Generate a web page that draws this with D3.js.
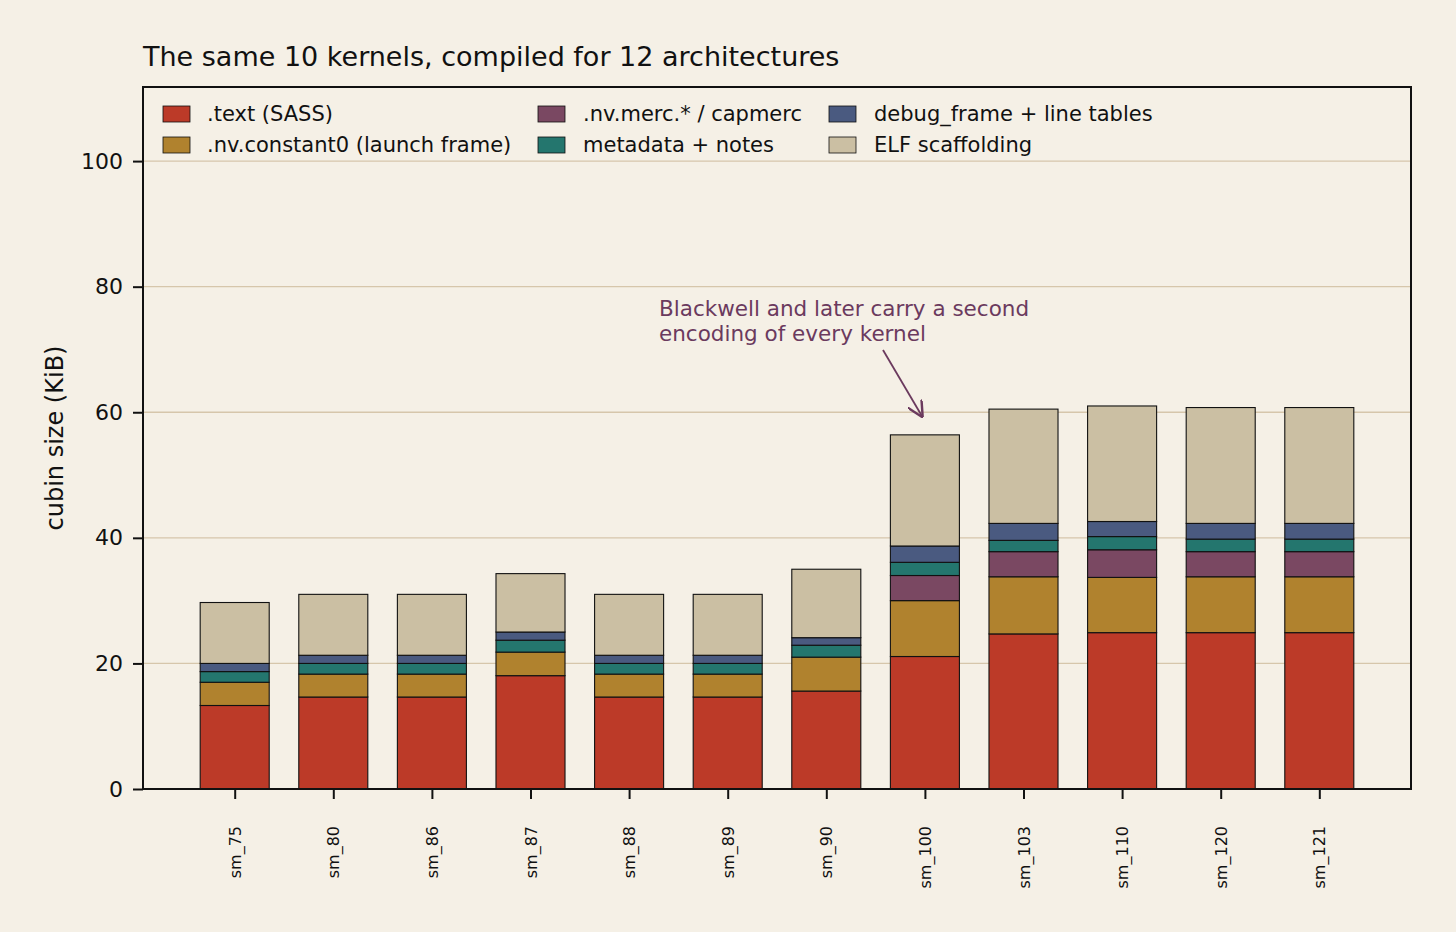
<!DOCTYPE html>
<html>
<head>
<meta charset="utf-8">
<script src="https://cdn.jsdelivr.net/npm/d3@7"></script>
<style>
  body { margin: 0; background: #f5f0e6; }
  svg, svg text { font-family: "DejaVu Sans", sans-serif; }
</style>
</head>
<body>
<div id="chart"></div>
<script>
// architectures on the x axis
const archs = ['sm_75', 'sm_80', 'sm_86', 'sm_87', 'sm_88', 'sm_89', 'sm_90', 'sm_100', 'sm_103', 'sm_110', 'sm_120', 'sm_121'];

// section sizes in KiB
const textSass   = [13.3, 14.65, 14.65, 18.05, 14.65, 14.65, 15.6, 21.1, 24.7, 24.9, 24.9, 24.9];
const constant0  = [3.7, 3.65, 3.65, 3.75, 3.65, 3.65, 5.4, 8.9, 9.1, 8.8, 8.9, 8.9];
const merc       = [0, 0, 0, 0, 0, 0, 0, 4.0, 4.0, 4.4, 4.0, 4.0];
const metadata   = [1.7, 1.7, 1.7, 1.9, 1.7, 1.7, 1.9, 2.1, 1.8, 2.1, 2.0, 2.0];
const debugFrame = [1.3, 1.3, 1.3, 1.3, 1.3, 1.3, 1.2, 2.6, 2.7, 2.4, 2.5, 2.5];
const elf        = [9.7, 9.7, 9.7, 9.3, 9.7, 9.7, 10.9, 17.7, 18.2, 18.4, 18.45, 18.45];

const seriesNames = ['.text (SASS)', '.nv.constant0 (launch frame)', '.nv.merc.* / capmerc', 'metadata + notes', 'debug_frame + line tables', 'ELF scaffolding'];
const seriesValues = [textSass, constant0, merc, metadata, debugFrame, elf];
const colors = ['#bc3a28', '#b0822e', '#7a4862', '#24766e', '#4a5a80', '#cbbfa3'];
const yTicks = [0, 20, 40, 60, 80, 100];

const W = 1456, H = 932;
const margin = { top: 87, right: 45, bottom: 143, left: 143 };
const width = W - margin.left - margin.right;
const height = H - margin.top - margin.bottom;
const font = '"DejaVu Sans", sans-serif';

const rows = archs.map((a, i) => {
  const r = { arch: a };
  seriesNames.forEach((s, j) => { r[s] = seriesValues[j][i]; });
  return r;
});

const svg = d3.select('#chart')
  .append('svg')
    .attr('width', W)
    .attr('height', H);

svg.append('rect').attr('width', W).attr('height', H).attr('fill', '#f5f0e6');

const g = svg.append('g')
  .attr('transform', `translate(${margin.left},${margin.top})`);

const x = d3.scalePoint()
  .domain(archs)
  .range([0, width])
  .padding(0.93);
const barW = x.step() * 0.7;

const y = d3.scaleLinear()
  .domain([0, 111.8])
  .range([height, 0]);

// gridlines
g.append('g')
  .selectAll('line')
  .data(yTicks)
  .join('line')
    .attr('x1', 0)
    .attr('x2', width)
    .attr('y1', d => y(d))
    .attr('y2', d => y(d))
    .attr('stroke', '#d6c6ab')
    .attr('stroke-width', 1.3);

// stacked bars
const stacked = d3.stack().keys(seriesNames)(rows);

g.append('g')
  .selectAll('g')
  .data(stacked)
  .join('g')
    .attr('fill', (d, i) => colors[i])
  .selectAll('rect')
  .data(d => d.filter(p => p[1] - p[0] > 0))
  .join('rect')
    .attr('x', d => x(d.data.arch) - barW / 2)
    .attr('y', d => y(d[1]))
    .attr('width', barW)
    .attr('height', d => y(d[0]) - y(d[1]))
    .attr('stroke', '#111')
    .attr('stroke-width', 1.1);

// axes
const yAxis = g.append('g')
  .call(d3.axisLeft(y).tickValues(yTicks).tickSize(10).tickPadding(10));
yAxis.attr('font-family', font);
yAxis.select('.domain').remove();
yAxis.selectAll('text').style('font-size', '22px').attr('fill', '#111');
yAxis.selectAll('line').attr('stroke', '#111').attr('stroke-width', 2);

const xAxis = g.append('g')
  .attr('transform', `translate(0,${height})`)
  .call(d3.axisBottom(x).tickSize(10).tickPadding(6));
xAxis.attr('font-family', font);
xAxis.select('.domain').remove();
xAxis.selectAll('line').attr('stroke', '#111').attr('stroke-width', 2);
xAxis.selectAll('text')
  .style('font-size', '16px')
  .attr('fill', '#111')
  .attr('transform', 'rotate(-90)')
  .attr('text-anchor', 'end')
  .attr('dy', '0.35em')
  .attr('x', -37)
  .attr('y', 0);

// frame
g.append('rect')
  .attr('width', width)
  .attr('height', height)
  .attr('fill', 'none')
  .attr('stroke', '#111')
  .attr('stroke-width', 2);

// y label
svg.append('text')
  .attr('transform', `translate(63,438) rotate(-90)`)
  .attr('text-anchor', 'middle')
  .style('font-size', '24px')
  .attr('fill', '#111')
  .text('cubin size (KiB)');

// title
svg.append('text')
  .attr('x', margin.left)
  .attr('y', 66)
  .style('font-size', '27px')
  .attr('fill', '#111')
  .text('The same 10 kernels, compiled for 12 architectures');

// legend
const legendCols = [163, 538, 829];
const legend = svg.append('g')
  .selectAll('g')
  .data(seriesNames)
  .join('g')
    .attr('transform', (d, i) => `translate(${legendCols[Math.floor(i / 2)]},${106 + (i % 2) * 31})`);
legend.append('rect')
  .attr('width', 27)
  .attr('height', 16)
  .attr('fill', (d, i) => colors[i])
  .attr('stroke', '#111')
  .attr('stroke-width', 0.8);
legend.append('text')
  .attr('x', (d, i) => i < 2 ? 44 : 45)
  .attr('y', 8)
  .attr('dy', '0.35em')
  .style('font-size', '21px')
  .attr('fill', '#111')
  .text(d => d);

// annotation
const annColor = '#6b3a5e';
svg.append('defs').append('marker')
  .attr('id', 'arrow')
  .attr('viewBox', '0 0 10 10')
  .attr('refX', 9)
  .attr('refY', 5)
  .attr('markerWidth', 9)
  .attr('markerHeight', 9)
  .attr('orient', 'auto')
  .append('path')
    .attr('d', 'M0,0 L10,5 L0,10')
    .attr('fill', 'none')
    .attr('stroke', annColor)
    .attr('stroke-width', 1.5);

const ax = x('sm_100') + margin.left - 3;
const ay = y(59.4) + margin.top;
svg.append('line')
  .attr('x1', 883)
  .attr('y1', 350)
  .attr('x2', ax)
  .attr('y2', ay)
  .attr('stroke', annColor)
  .attr('stroke-width', 1.8)
  .attr('marker-end', 'url(#arrow)');

const ann = svg.append('text')
  .attr('x', 659)
  .attr('y', 316)
  .style('font-size', '21.5px')
  .attr('fill', annColor);
ann.append('tspan').attr('x', 659).text('Blackwell and later carry a second');
ann.append('tspan').attr('x', 659).attr('dy', 24.5).text('encoding of every kernel');
</script>
</body>
</html>
